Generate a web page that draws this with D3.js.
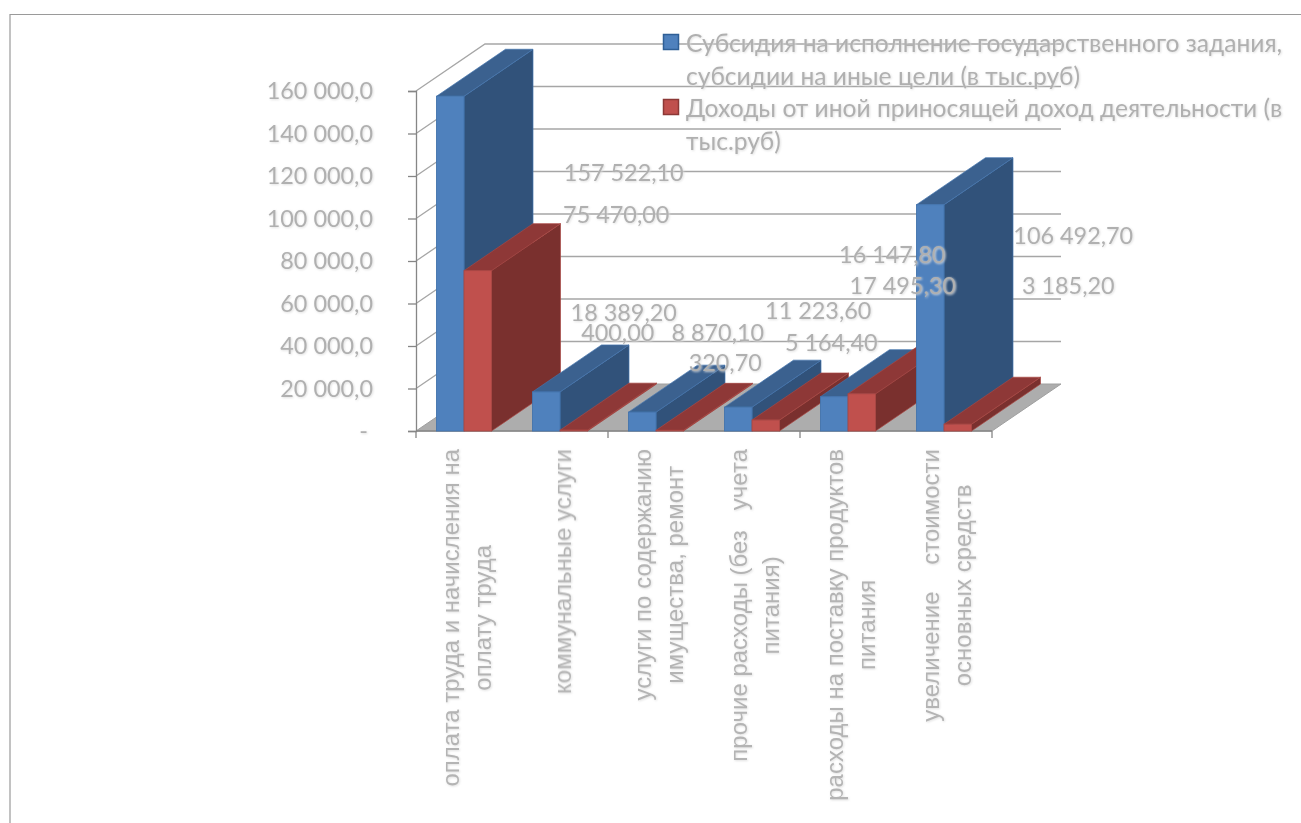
<!DOCTYPE html>
<html>
<head>
<meta charset="utf-8">
<script src="https://cdn.jsdelivr.net/npm/d3@7"></script>
<style>
    html, body { margin: 0; padding: 0; background: #fff; overflow: hidden; }
    svg { display: block; filter: blur(0.5px); }
    .soft { font-family: Lato, "Open Sans", sans-serif; font-size: 24.6px; fill: #b0b0b0; }
    .num { font-size: 23.4px; }
    .cat { font-family: "Liberation Sans", Arial, sans-serif; font-size: 24px; fill: #b4b4b4; }
</style>
</head>
<body>
<svg id="chart"></svg>
<script>
var categories = [
    ['оплата труда и начисления на', 'оплату труда'],
    ['коммунальные услуги'],
    ['услуги по содержанию', 'имущества, ремонт'],
    ['прочие расходы (без   учета', 'питания)'],
    ['расходы на поставку продуктов', 'питания'],
    ['увеличение    стоимости', 'основных средств']
]
var subsidy = [157522.1, 18389.2, 8870.1, 11223.6, 16147.8, 106492.7]
var income = [75470, 400, 320.7, 5164.4, 17495.3, 3185.2]
var subsidyLabels = ['157 522,10', '18 389,20', '8 870,10', '11 223,60', '16 147,80', '106 492,70']
var incomeLabels = ['75 470,00', '400,00', '320,70', '5 164,40', '17 495,30', '3 185,20']
var yTicks = [0, 20000, 40000, 60000, 80000, 100000, 120000, 140000, 160000]
var yTickLabels = ['-', '20 000,0', '40 000,0', '60 000,0', '80 000,0', '100 000,0', '120 000,0', '140 000,0', '160 000,0']
var legendLines = [
    ['Субсидия на исполнение государственного задания,', 'субсидии на иные цели (в тыс.руб)'],
    ['Доходы от иной приносящей доход деятельности (в', 'тыс.руб)']
]

// where excel left the data labels, relative to the top of the bar front
var subsidyLabelOffset = [[173.5, 75.7], [77.5, -80], [75.5, -80], [80, -97], [58, -143], [143, 30]]
var incomeLabelOffset = [[138.5, -56.6], [44, -98], [55.5, -68], [65.5, -78], [41, -109], [110.5, -139]]

var width = 1301, height = 823
var depthX = 69, depthY = -47
var plotLeft = 416, plotRight = 992, plotBottom = 431, plotTop = 91

var svg = d3.select('#chart').attr('width', width).attr('height', height)

var defs = svg.append('defs')
defs.append('filter').attr('id', 'halo')
    .attr('x', '-5%').attr('y', '-5%').attr('width', '110%').attr('height', '110%')
    .append('feDropShadow')
    .attr('dx', 0.8).attr('dy', 0.8).attr('stdDeviation', 0.8)
    .attr('flood-color', '#dcdcdc')

var y = d3.scaleLinear().domain([0, 160000]).range([plotBottom, plotTop])
var x = d3.scaleBand().domain(d3.range(categories.length)).range([plotLeft, plotRight])
    .paddingInner(0.427).paddingOuter(0.2135)
var barWidth = x.bandwidth() / 2

function pts(list) { return list.map(function(p) { return p.join(',') }).join(' ') }

// outer frame, runs off the right and bottom of the picture
svg.append('path').attr('d', 'M10,823V14.5H1301')
    .attr('fill', 'none').attr('stroke', '#9a9a9a').attr('stroke-width', 1.2)

// floor
svg.append('polygon')
    .attr('points', pts([[plotLeft, plotBottom], [plotLeft + depthX, plotBottom + depthY], [plotRight + depthX, plotBottom + depthY], [plotRight, plotBottom]]))
    .attr('fill', '#adadad').attr('stroke', '#a0a0a0')

// walls gridlines
svg.append('g').selectAll('polyline')
    .data(yTicks.slice(1))
    .enter().append('polyline')
    .attr('points', function(d) {
        return pts([[plotLeft, y(d)], [plotLeft + depthX, y(d) + depthY], [plotRight + depthX, y(d) + depthY]])
    })
    .attr('fill', 'none').attr('stroke', '#a6a6a6').attr('stroke-width', 1.3)

// y axis
var yAxis = d3.axisLeft(y)
    .tickValues(yTicks)
    .tickSize(8)
    .tickPadding(35)
    .tickFormat(function(d, i) { return yTickLabels[i] })
var yG = svg.append('g').attr('transform', 'translate(' + plotLeft + ',0)').call(yAxis)
yG.select('.domain').attr('stroke', '#868686').attr('stroke-width', 1.3)
yG.selectAll('.tick line').attr('stroke', '#868686').attr('stroke-width', 1.3)
yG.attr('font-family', null).attr('font-size', null)
yG.selectAll('.tick text').attr('class', 'soft num').attr('filter', 'url(#halo)')
    .attr('dx', function(d) { return d === 0 ? -5 : 0 })

// x axis, ticks only every second category
var stepX = (plotRight - plotLeft) / categories.length
var xTicks = d3.range(0, categories.length + 1, 2)
svg.append('line').attr('x1', plotLeft).attr('x2', plotRight).attr('y1', plotBottom).attr('y2', plotBottom)
    .attr('stroke', '#868686').attr('stroke-width', 1.3)
svg.append('g').selectAll('line')
    .data(xTicks)
    .enter().append('line')
    .attr('x1', function(d) { return plotLeft + d * stepX })
    .attr('x2', function(d) { return plotLeft + d * stepX })
    .attr('y1', plotBottom).attr('y2', plotBottom + 7)
    .attr('stroke', '#868686').attr('stroke-width', 1.3)

var colors = [
    { front: '#4f81bd', side: '#31527a', top: '#3b618f', line: '#4474ad' },
    { front: '#c0504d', side: '#7a302e', top: '#8e3837', line: '#a94744' }
]

function drawBar(g, x0, value, c) {
    var x1 = x0 + barWidth, y0 = y(value)
    g.append('polygon')
        .attr('points', pts([[x1, plotBottom], [x1 + depthX, plotBottom + depthY], [x1 + depthX, y0 + depthY], [x1, y0]]))
        .attr('fill', c.side).attr('stroke', c.line).attr('stroke-width', 0.7)
    g.append('polygon')
        .attr('points', pts([[x0, y0], [x0 + depthX, y0 + depthY], [x1 + depthX, y0 + depthY], [x1, y0]]))
        .attr('fill', c.top).attr('stroke', c.line).attr('stroke-width', 0.7)
    g.append('rect')
        .attr('x', x0).attr('y', y0).attr('width', barWidth).attr('height', plotBottom - y0)
        .attr('fill', c.front).attr('stroke', c.line).attr('stroke-width', 0.9)
}

// left to right, each bar hides the side face of the one before it
var bars = svg.append('g')
d3.range(categories.length).forEach(function(i) {
    drawBar(bars.append('g'), x(i), subsidy[i], colors[0])
    drawBar(bars.append('g'), x(i) + barWidth, income[i], colors[1])
})

// data labels
function drawLabels(values, texts, offsets, shift) {
    svg.append('g').attr('filter', 'url(#halo)').selectAll('text')
        .data(values)
        .enter().append('text')
        .attr('class', 'soft num')
        .attr('text-anchor', 'middle')
        .attr('dominant-baseline', 'central')
        .attr('x', function(d, i) { return x(i) + shift + barWidth / 2 + offsets[i][0] })
        .attr('y', function(d, i) { return y(d) + offsets[i][1] })
        .text(function(d, i) { return texts[i] })
}
drawLabels(subsidy, subsidyLabels, subsidyLabelOffset, 0)
drawLabels(income, incomeLabels, incomeLabelOffset, barWidth)

// category labels, rotated, the longest line starts just below the axis
var catG = svg.append('g').attr('filter', 'url(#halo)')
categories.forEach(function(lines, i) {
    var cx = x(i) + barWidth + 2
    var nodes = lines.map(function(line, k) {
        return catG.append('text')
            .attr('class', 'cat')
            .attr('text-anchor', 'middle')
            .attr('dominant-baseline', 'central')
            .style('white-space', 'pre')
            .text(line)
    })
    var longest = d3.max(nodes, function(n) { return n.node().getComputedTextLength() })
    var cy = plotBottom + 18 + longest / 2
    nodes.forEach(function(n, k) {
        var lx = cx + (k - (lines.length - 1) / 2) * 32
        n.attr('transform', 'translate(' + lx + ',' + cy + ') rotate(-90)')
    })
})

// legend
var legend = svg.append('g')
legendLines.forEach(function(lines, i) {
    var ly = 42 + i * 65
    legend.append('rect')
        .attr('x', 663.5).attr('y', ly - 7.5).attr('width', 15).attr('height', 15)
        .attr('fill', colors[i].front).attr('stroke', i ? '#8c3836' : '#2f5f96').attr('stroke-width', 1.5)
    legend.append('g').attr('filter', 'url(#halo)').selectAll('text')
        .data(lines)
        .enter().append('text')
        .attr('class', 'soft')
        .attr('dominant-baseline', 'central')
        .attr('x', 686)
        .attr('y', function(d, k) { return ly + k * 33 })
        .text(function(d) { return d })
})
</script>
</body>
</html>
